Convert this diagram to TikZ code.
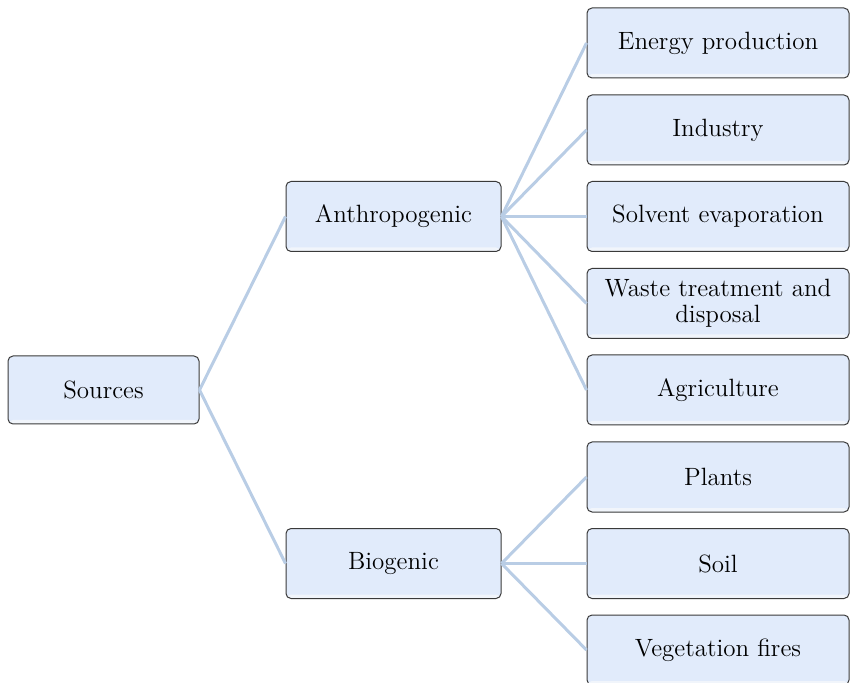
\documentclass[tikz,border=0pt]{standalone}
\usepackage{tikz}
\definecolor{boxfill}{HTML}{E1EBFB}
\definecolor{boxband}{HTML}{F1F5FB}
\definecolor{boxedge}{HTML}{3A3A3A}
\definecolor{linkblue}{HTML}{B9CDE5}

\begin{document}
\begin{tikzpicture}[x=0.5pt, y=-0.5pt, font=\fontsize{12.5}{13}\selectfont,
    box/.style={draw=boxedge, line width=0.5pt, fill=boxfill, rounded corners=2.5pt,
      align=center, inner sep=0pt, minimum height=35pt,
      path picture={\fill[boxband] (path picture bounding box.south west)
        rectangle ([yshift=2pt]path picture bounding box.south east);}},
    midbox/.style={box, minimum width=107.5pt},
    leafbox/.style={box, minimum width=131pt},
    link/.style={draw=linkblue, line width=1.5pt}]
  \useasboundingbox (0,0) rectangle (850,683);
  \clip (0,0) rectangle (850,683);
  % root and the two groups
  \node[box, minimum width=95.5pt, minimum height=34pt] (sources) at (103.5,390) {Sources};
  \node[midbox] (anthro) at (393.5,216.5) {Anthropogenic};
  \node[midbox] (bio) at (393.5,563.5) {Biogenic};
  % anthropogenic sources
  \foreach \name/\y/\lab in {energy/43/Energy production, industry/130/Industry,
      solvent/216.5/Solvent evaporation, waste/303.5/{Waste treatment and\\disposal},
      agri/390/Agriculture}
  {
    \node[leafbox] (\name) at (718,\y) {\lab};
    \draw[link] (anthro.east) -- (\name.west);
  }
  % biogenic sources
  \foreach \name/\y/\lab in {plants/477/Plants, soil/563.5/Soil, fires/650/Vegetation fires}
  {
    \node[leafbox] (\name) at (718,\y) {\lab};
    \draw[link] (bio.east) -- (\name.west);
  }
  % root links
  \draw[link] (sources.east) -- (anthro.west);
  \draw[link] (sources.east) -- (bio.west);
\end{tikzpicture}
\end{document}
